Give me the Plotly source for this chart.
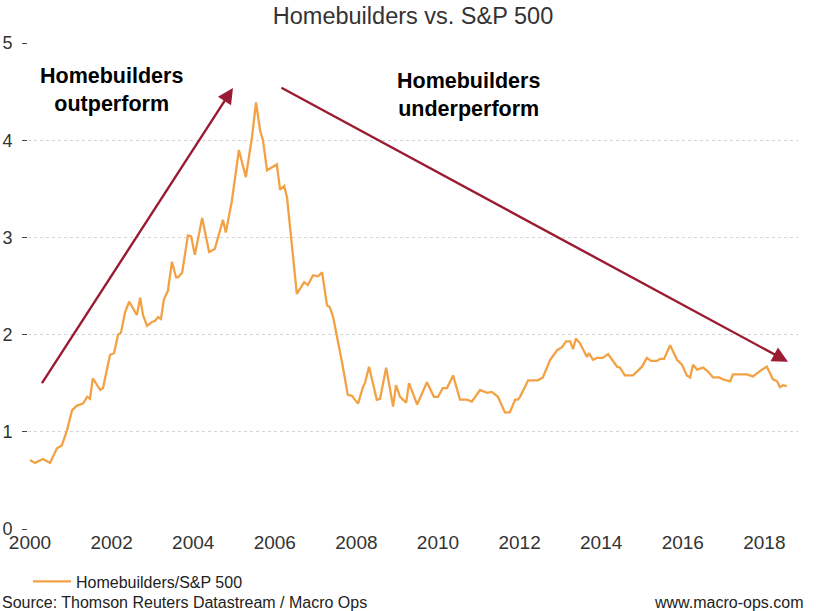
import plotly.graph_objects as go

# ---- data ----
years = [
    2000.00, 2000.12, 2000.32, 2000.49, 2000.66, 2000.78, 2000.91, 2001.03, 2001.15, 2001.30,
    2001.40, 2001.47, 2001.54, 2001.72, 2001.79, 2001.96, 2002.06, 2002.16, 2002.23, 2002.33,
    2002.43, 2002.52, 2002.62, 2002.70, 2002.77, 2002.87, 2002.99, 2003.06, 2003.14, 2003.21,
    2003.28, 2003.38, 2003.48, 2003.58, 2003.63, 2003.73, 2003.87, 2003.95, 2004.04, 2004.22,
    2004.39, 2004.53, 2004.73, 2004.80, 2004.95, 2005.12, 2005.29, 2005.44, 2005.54, 2005.64,
    2005.71, 2005.81, 2006.05, 2006.13, 2006.23, 2006.30, 2006.42, 2006.54, 2006.72, 2006.81,
    2006.94, 2007.06, 2007.16, 2007.28, 2007.35, 2007.43, 2007.65, 2007.79, 2007.89, 2008.04,
    2008.16, 2008.21, 2008.31, 2008.50, 2008.58, 2008.73, 2008.90, 2008.97, 2009.07, 2009.22,
    2009.29, 2009.49, 2009.73, 2009.90, 2010.00, 2010.12, 2010.22, 2010.37, 2010.54, 2010.71,
    2010.83, 2011.03, 2011.20, 2011.32, 2011.47, 2011.64, 2011.76, 2011.89, 2011.96, 2012.01,
    2012.21, 2012.45, 2012.57, 2012.75, 2012.92, 2013.04, 2013.14, 2013.24, 2013.31, 2013.38,
    2013.48, 2013.65, 2013.70, 2013.80, 2013.90, 2014.04, 2014.17, 2014.39, 2014.46, 2014.58,
    2014.78, 2014.88, 2015.00, 2015.12, 2015.22, 2015.37, 2015.44, 2015.54, 2015.69, 2015.78,
    2015.86, 2015.98, 2016.10, 2016.18, 2016.25, 2016.35, 2016.50, 2016.62, 2016.74, 2016.89,
    2016.99, 2017.16, 2017.23, 2017.57, 2017.72, 2017.94, 2018.06, 2018.21, 2018.31, 2018.38,
    2018.46, 2018.55,
]
ratio = [
    0.71, 0.68, 0.72, 0.68, 0.83, 0.86, 1.02, 1.22, 1.27, 1.29,
    1.36, 1.34, 1.55, 1.43, 1.45, 1.79, 1.81, 2.00, 2.02, 2.23,
    2.34, 2.27, 2.20, 2.38, 2.20, 2.09, 2.13, 2.14, 2.18, 2.16,
    2.36, 2.45, 2.75, 2.59, 2.59, 2.64, 3.02, 3.01, 2.82, 3.20,
    2.85, 2.88, 3.18, 3.05, 3.38, 3.90, 3.62, 4.03, 4.39, 4.10,
    4.00, 3.69, 3.75, 3.49, 3.53, 3.41, 2.90, 2.42, 2.54, 2.51,
    2.61, 2.60, 2.64, 2.30, 2.28, 2.18, 1.71, 1.38, 1.37, 1.29,
    1.46, 1.50, 1.67, 1.33, 1.34, 1.66, 1.26, 1.48, 1.36, 1.30,
    1.50, 1.28, 1.51, 1.36, 1.36, 1.45, 1.45, 1.58, 1.33, 1.33,
    1.31, 1.43, 1.40, 1.41, 1.36, 1.20, 1.20, 1.33, 1.33, 1.36,
    1.53, 1.53, 1.56, 1.74, 1.84, 1.87, 1.93, 1.93, 1.85, 1.96,
    1.91, 1.77, 1.81, 1.74, 1.76, 1.76, 1.80, 1.67, 1.66, 1.58,
    1.58, 1.62, 1.67, 1.76, 1.73, 1.73, 1.75, 1.75, 1.89, 1.81,
    1.74, 1.69, 1.58, 1.56, 1.69, 1.64, 1.66, 1.62, 1.56, 1.56,
    1.54, 1.52, 1.59, 1.59, 1.57, 1.64, 1.67, 1.54, 1.52, 1.46,
    1.48, 1.47,
]
x_ticks = [2000, 2002, 2004, 2006, 2008, 2010, 2012, 2014, 2016, 2018]
y_ticks = [0, 1, 2, 3, 4, 5]
series_name = "Homebuilders/S&P 500"
title_text = "Homebuilders vs. S&P 500"
label_up = ["Homebuilders", "outperform"]
label_down = ["Homebuilders", "underperform"]
source_text = "Source: Thomson Reuters Datastream / Macro Ops"
site_text = "www.macro-ops.com"

FONT = "Liberation Sans, Arial, Helvetica, sans-serif"
LINE_COLOR = "#F2A245"
ARROW_COLOR = "#9B1B33"


def bold_lines(lines):
    return "<br>".join("<b>%s</b>" % s for s in lines)


fig = go.Figure()
fig.add_trace(go.Scatter(
    x=years, y=ratio, mode="lines", name=series_name,
    line=dict(color=LINE_COLOR, width=2.3),
))

annotations = [
    # arrows
    dict(x=2004.975, y=4.537, ax=2000.27, ay=1.485, xref="x", yref="y",
         axref="x", ayref="y", text="", showarrow=True, arrowhead=2,
         arrowsize=1.3, arrowwidth=2.4, arrowcolor=ARROW_COLOR, standoff=0),
    dict(x=2018.578, y=1.721, ax=2006.127, ay=4.548, xref="x", yref="y",
         axref="x", ayref="y", text="", showarrow=True, arrowhead=2,
         arrowsize=1.3, arrowwidth=2.4, arrowcolor=ARROW_COLOR, standoff=0),
    # labels
    dict(x=2001.99, y=4.517, xref="x", yref="y", text=bold_lines(label_up),
         showarrow=False, font=dict(family=FONT, size=21.5, color="#000000"),
         align="center", xanchor="center", yanchor="middle"),
    dict(x=2010.74, y=4.466, xref="x", yref="y", text=bold_lines(label_down),
         showarrow=False, font=dict(family=FONT, size=21.5, color="#000000"),
         align="center", xanchor="center", yanchor="middle"),
    # footer
    dict(x=-0.0364, y=-0.151, xref="paper", yref="paper", text=source_text,
         showarrow=False, xanchor="left", yanchor="middle",
         font=dict(family=FONT, size=16, color="#222222")),
    dict(x=1.009, y=-0.151, xref="paper", yref="paper", text=site_text,
         showarrow=False, xanchor="right", yanchor="middle",
         font=dict(family=FONT, size=16, color="#222222")),
]

fig.update_layout(
    width=816, height=611,
    margin=dict(l=28, r=18, t=43, b=82, pad=0, autoexpand=False),
    paper_bgcolor="white", plot_bgcolor="white",
    font=dict(family=FONT, color="#333333"),
    title=dict(text=title_text, x=0.5, xanchor="center", xref="paper",
               y=0.975, yanchor="middle", yref="container",
               font=dict(family=FONT, size=23.5, color="#333333")),
    showlegend=True,
    legend=dict(orientation="h", x=0.0, xanchor="left", y=-0.073, yanchor="top",
                itemwidth=38,
                font=dict(family=FONT, size=16, color="#222222"),
                bgcolor="rgba(0,0,0,0)", borderwidth=0),
    xaxis=dict(range=[1999.951, 2018.824], tickmode="array", tickvals=x_ticks,
               ticktext=[str(t) for t in x_ticks], showgrid=False, zeroline=False,
               showline=False, ticks="", automargin=False,
               tickfont=dict(family=FONT, size=19, color="#333333"),
               fixedrange=True),
    yaxis=dict(range=[0, 5], tickmode="array", tickvals=y_ticks,
               ticktext=[str(t) for t in y_ticks], showgrid=True,
               gridcolor="#d4d4d4", griddash="dot", gridwidth=1, zeroline=False,
               showline=False, ticks="outside", ticklen=5, tickwidth=1.3,
               tickcolor="#444444", ticklabelstandoff=6, automargin=False,
               tickfont=dict(family=FONT, size=18, color="#333333"), fixedrange=True),
    annotations=annotations,
)

fig.write_html(
    "out.html",
    config={"displayModeBar": False},
    post_script="document.body.style.margin='0px';document.body.style.overflow='hidden';",
)
